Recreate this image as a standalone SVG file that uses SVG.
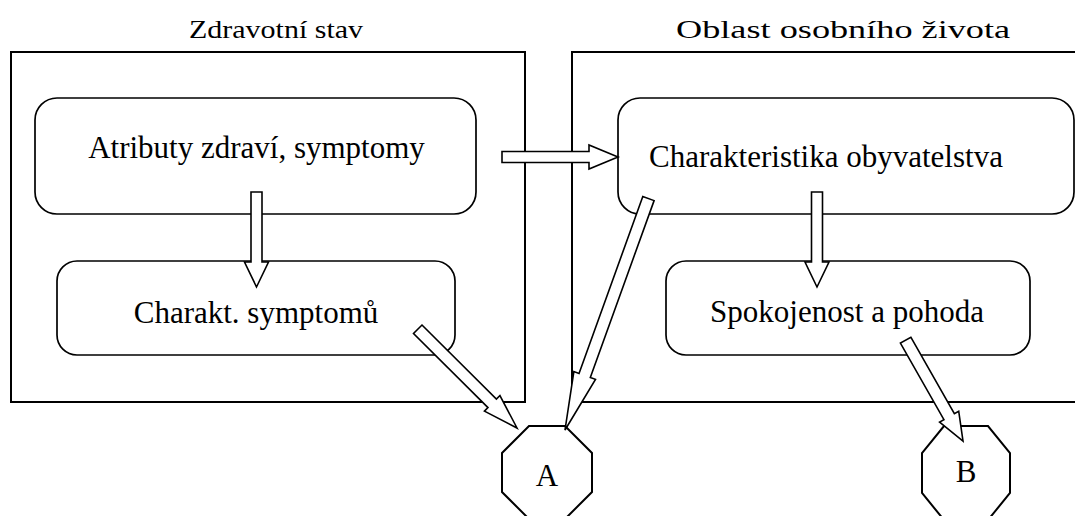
<svg xmlns="http://www.w3.org/2000/svg" width="1075" height="516" viewBox="0 0 1075 516">
<style>
.outer{fill:none;stroke:#000;stroke-width:2}
.inner{fill:#fff;stroke:#000;stroke-width:1.7}
.oct{fill:#fff;stroke:#000;stroke-width:2}
.arr{fill:#fff;stroke:#000;stroke-width:1.6;stroke-linejoin:miter}
.t{font-family:"Liberation Serif","Times New Roman",serif;fill:#000}
.body{font-size:31px;text-anchor:middle}
.title{font-size:25px}
</style>
<rect width="1075" height="516" fill="#fff"/>
<g id="zdravotni-stav">
  <rect class="outer" x="11" y="52" width="514" height="350"/>
  <text class="t title" transform="translate(189,38) scale(1.2,1)">Zdravotní stav</text>
</g>
<g id="oblast-osobniho-zivota">
  <rect class="outer" x="572" y="52" width="510" height="350"/>
  <text class="t title" transform="translate(676,38) scale(1.45,1)">Oblast osobního života</text>
</g>
<g id="atributy">
  <rect class="inner" x="35" y="98" width="441" height="116" rx="22" ry="22"/>
  <text class="t body" x="256.5" y="158">Atributy zdraví, symptomy</text>
</g>
<g id="charakt-symptomu">
  <rect class="inner" x="57" y="261" width="398" height="94" rx="20" ry="20"/>
  <text class="t body" x="256" y="323">Charakt. symptomů</text>
</g>
<g id="charakteristika">
  <rect class="inner" x="618" y="98" width="456" height="116" rx="22" ry="22"/>
  <text class="t body" x="826" y="167">Charakteristika obyvatelstva</text>
</g>
<g id="spokojenost">
  <rect class="inner" x="666" y="261" width="364" height="94" rx="20" ry="20"/>
  <text class="t body" x="847" y="322">Spokojenost a pohoda</text>
</g>
<g id="A">
  <polygon class="oct" points="529,426 565,426 592,453 592,492 565,519 529,519 502,492 502,453"/>
  <text class="t body" x="547" y="486">A</text>
</g>
<g id="B">
  <polygon class="oct" points="944,426 988,426 1010,453 1010,493 988,520 944,520 922,493 922,453"/>
  <text class="t body" x="966" y="482">B</text>
</g>
<g id="connectors">
  <polygon class="arr" transform="translate(618,157)" points="-116,-5.5 -29,-5.5 -29,-12 0,0 -29,12 -29,5.5 -116,5.5"/>
  <polygon class="arr" transform="translate(256.5,287) rotate(90)" points="-95,-5.5 -25,-5.5 -25,-12 0,0 -25,12 -25,5.5 -95,5.5"/>
  <polygon class="arr" transform="translate(817,287) rotate(90)" points="-95,-5.5 -25,-5.5 -25,-12 0,0 -25,12 -25,5.5 -95,5.5"/>
  <polygon class="arr" transform="translate(517,428) rotate(44.85)" points="-140,-6 -35,-6 -35,-11 0,0 -35,11 -35,6 -140,6"/>
  <polygon class="arr" transform="translate(565,430) rotate(109.83)" points="-246,-6 -58,-6 -58,-11.5 0,0 -58,11.5 -58,6 -246,6"/>
  <polygon class="arr" transform="translate(963,441) rotate(60.35)" points="-116,-6 -28,-6 -28,-11 0,0 -28,11 -28,6 -116,6"/>
</g>
</svg>
